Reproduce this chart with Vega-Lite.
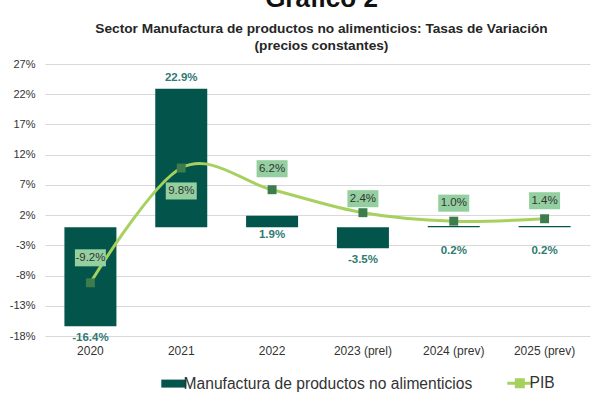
{
  "$schema": "https://vega.github.io/schema/vega-lite/v6.json",
  "width": 545,
  "height": 272,
  "autosize": {"type": "none"},
  "padding": {"left": 45, "top": 64, "right": 10, "bottom": 65},
  "background": "white",
  "title": {
    "text": "Gráfico 2",
    "subtitle": ["Sector Manufactura de productos no alimenticios: Tasas de Variación", "(precios constantes)"],
    "anchor": "middle",
    "dx": 4,
    "font": "Liberation Sans",
    "fontSize": 26,
    "fontWeight": "bold",
    "color": "#111111",
    "subtitleFont": "Liberation Sans",
    "subtitleFontSize": 13.7,
    "subtitleFontWeight": "bold",
    "subtitleColor": "#262626",
    "subtitleLineHeight": 17,
    "subtitlePadding": 10,
    "offset": 5
  },
  "data": {"values": [
    {"year": "2020", "manuf": -16.4, "pib": -9.2},
    {"year": "2021", "manuf": 22.9, "pib": 9.8},
    {"year": "2022", "manuf": 1.9, "pib": 6.2},
    {"year": "2023 (prel)", "manuf": -3.5, "pib": 2.4},
    {"year": "2024 (prev)", "manuf": 0.2, "pib": 1.0},
    {"year": "2025 (prev)", "manuf": 0.2, "pib": 1.4}
  ]},
  "transform": [
    {"calculate": "replace(format(datum.manuf, '.1f'), '\u2212', '-') + '%'", "as": "ml"},
    {"calculate": "replace(format(datum.pib, '.1f'), '\u2212', '-') + '%'", "as": "pl"}
  ],
  "encoding": {
    "x": {
      "field": "year", "type": "nominal", "sort": null, "title": null,
      "scale": {"paddingInner": 0, "paddingOuter": 0},
      "axis": {"labelAngle": 0, "ticks": false, "domain": false, "grid": false, "labelPadding": 9,
               "labelFont": "Liberation Sans", "labelFontSize": 12, "labelColor": "#333333"}
    }
  },
  "layer": [
    {
      "mark": {"type": "bar", "width": 52},
      "encoding": {
        "y": {"field": "manuf", "type": "quantitative", "title": null,
              "scale": {"domain": [-18, 27], "nice": false, "zero": false},
              "axis": {"values": [-18, -13, -8, -3, 2, 7, 12, 17, 22, 27], "tickCount": 40, "labelExpr": "datum.value + '%'",
                       "labelOverlap": false, "grid": true, "gridColor": "#d9d9d9", "gridWidth": 1,
                       "ticks": false, "domain": false, "labelPadding": 10,
                       "labelFont": "Liberation Sans", "labelFontSize": 11, "labelColor": "#333333"}},
        "color": {"datum": "Manufactura de productos no alimenticios", "type": "nominal",
                  "scale": {"domain": ["Manufactura de productos no alimenticios", "PIB"], "range": ["#03544a", "#a6d15f"]},
                  "legend": {
                    "title": null, "orient": "none", "legendX": 121, "legendY": 311, "direction": "horizontal",
                    "columnPadding": 28, "labelOffset": 2, "symbolSize": 625, "labelLimit": 500,
                    "labelFont": "Liberation Sans", "labelFontSize": 15.6, "labelColor": "#333333",
                    "encode": {"symbols": {"update": {
                      "shape": {"signal": "datum.value === 'PIB' ? 'M-1,0H-0.3M0.3,0H1M-0.28,-0.28H0.28V0.28H-0.28Z' : 'M-1,-0.32H1V0.32H-1Z'"},
                      "fill": {"signal": "datum.value === 'PIB' ? '#3d7c4d' : '#03544a'"},
                      "stroke": {"signal": "datum.value === 'PIB' ? '#a6d15f' : '#03544a'"},
                      "strokeWidth": {"signal": "datum.value === 'PIB' ? 3 : 0"},
                      "opacity": {"value": 1}
                    }}}
                  }}
      }
    },
    {
      "mark": {"type": "rule", "color": "#d9d9d9", "strokeWidth": 1},
      "encoding": {"y": {"datum": 0, "type": "quantitative"}}
    },
    {
      "mark": {"type": "line", "interpolate": "cardinal", "strokeWidth": 3},
      "encoding": {
        "y": {"field": "pib", "type": "quantitative", "title": null},
        "color": {"datum": "PIB", "type": "nominal"}
      }
    },
    {
      "mark": {"type": "point", "shape": "square", "filled": true, "size": 80, "color": "#3d7c4d", "opacity": 1},
      "encoding": {
        "y": {"field": "pib", "type": "quantitative", "title": null}
      }
    },
    {
      "transform": [{"filter": "datum.year === '2020'"}],
      "encoding": {"y": {"field": "pib", "type": "quantitative", "title": null}},
      "layer": [
        {"mark": {"type": "point", "shape": "M-1,-0.55H1V0.55H-1Z", "size": 961, "filled": true, "color": "#93cf9f", "opacity": 1, "yOffset": -25}},
        {"mark": {"type": "text", "yOffset": -25, "font": "Liberation Sans", "fontSize": 11.5, "color": "#333333"}, "encoding": {"text": {"field": "pl"}}}
      ]
    },
    {
      "transform": [{"filter": "datum.year === '2021'"}],
      "encoding": {"y": {"field": "pib", "type": "quantitative", "title": null}},
      "layer": [
        {"mark": {"type": "point", "shape": "M-1,-0.55H1V0.55H-1Z", "size": 961, "filled": true, "color": "#93cf9f", "opacity": 1, "yOffset": 23}},
        {"mark": {"type": "text", "yOffset": 23, "font": "Liberation Sans", "fontSize": 11.5, "color": "#333333"}, "encoding": {"text": {"field": "pl"}}}
      ]
    },
    {
      "transform": [{"filter": "datum.year === '2022'"}],
      "encoding": {"y": {"field": "pib", "type": "quantitative", "title": null}},
      "layer": [
        {"mark": {"type": "point", "shape": "M-1,-0.55H1V0.55H-1Z", "size": 961, "filled": true, "color": "#93cf9f", "opacity": 1, "yOffset": -21}},
        {"mark": {"type": "text", "yOffset": -21, "font": "Liberation Sans", "fontSize": 11.5, "color": "#333333"}, "encoding": {"text": {"field": "pl"}}}
      ]
    },
    {
      "transform": [{"filter": "datum.year === '2023 (prel)'"}],
      "encoding": {"y": {"field": "pib", "type": "quantitative", "title": null}},
      "layer": [
        {"mark": {"type": "point", "shape": "M-1,-0.55H1V0.55H-1Z", "size": 961, "filled": true, "color": "#93cf9f", "opacity": 1, "yOffset": -14}},
        {"mark": {"type": "text", "yOffset": -14, "font": "Liberation Sans", "fontSize": 11.5, "color": "#333333"}, "encoding": {"text": {"field": "pl"}}}
      ]
    },
    {
      "transform": [{"filter": "datum.year === '2024 (prev)' || datum.year === '2025 (prev)'"}],
      "encoding": {"y": {"field": "pib", "type": "quantitative", "title": null}},
      "layer": [
        {"mark": {"type": "point", "shape": "M-1,-0.55H1V0.55H-1Z", "size": 961, "filled": true, "color": "#93cf9f", "opacity": 1, "yOffset": -18}},
        {"mark": {"type": "text", "yOffset": -18, "font": "Liberation Sans", "fontSize": 11.5, "color": "#333333"}, "encoding": {"text": {"field": "pl"}}}
      ]
    },
    {
      "transform": [{"filter": "datum.year === '2021'"}],
      "mark": {"type": "text", "yOffset": -11, "font": "Liberation Sans", "fontSize": 11.5, "fontWeight": "bold", "color": "#2f7a72"},
      "encoding": {"y": {"field": "manuf", "type": "quantitative", "title": null}, "text": {"field": "ml"}}
    },
    {
      "transform": [{"filter": "datum.year === '2020' || datum.year === '2023 (prel)'"}],
      "mark": {"type": "text", "yOffset": 12, "font": "Liberation Sans", "fontSize": 11.5, "fontWeight": "bold", "color": "#2f7a72"},
      "encoding": {"y": {"field": "manuf", "type": "quantitative", "title": null}, "text": {"field": "ml"}}
    },
    {
      "transform": [{"filter": "datum.year === '2022'"}],
      "mark": {"type": "text", "yOffset": 8, "font": "Liberation Sans", "fontSize": 11.5, "fontWeight": "bold", "color": "#2f7a72"},
      "encoding": {"y": {"datum": 0, "type": "quantitative"}, "text": {"field": "ml"}}
    },
    {
      "transform": [{"filter": "datum.year === '2024 (prev)' || datum.year === '2025 (prev)'"}],
      "mark": {"type": "text", "yOffset": 24, "font": "Liberation Sans", "fontSize": 11.5, "fontWeight": "bold", "color": "#2f7a72"},
      "encoding": {"y": {"datum": 0, "type": "quantitative"}, "text": {"field": "ml"}}
    }
  ],
  "config": {"view": {"stroke": null}}
}
